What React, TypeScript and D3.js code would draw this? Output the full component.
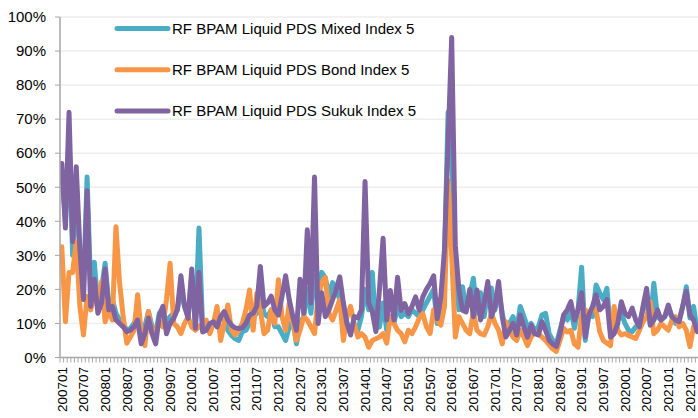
import React from "react";
import * as d3 from "d3";

const mixed = [
  55, 40, 65, 30, 50, 30, 20, 53, 20, 28, 15, 20,
  27.7, 16, 17, 13, 11, 10, 8, 8.5, 10, 12, 6, 9,
  13.5, 9, 7, 13, 14.5, 10, 12, 13, 14, 20, 15, 13,
  24, 10, 38, 9, 8, 10, 10, 11, 12, 11, 8, 6.5,
  5.5, 5, 7.6, 8, 10, 12, 13, 18, 13, 12, 14, 9,
  9, 7, 5, 9, 11, 4, 10, 12, 20, 13, 24, 16,
  25, 23.4, 18, 22, 20, 17, 14, 10, 8, 9, 8, 12,
  20, 14, 25, 8.6, 9, 16, 8, 12, 10, 15, 12, 13,
  12, 14, 13, 12, 14, 16, 18, 20, 10, 12, 28, 72,
  60, 25, 14, 20.8, 14, 18, 23.3, 13, 19, 12, 20, 20.4,
  14, 20, 13, 8, 10, 12, 8, 15, 12, 9, 10, 8,
  9, 12.5, 13, 7, 5, 4, 8, 12, 11, 14, 8.6, 14,
  26.5, 5, 13, 12, 21.3, 19, 17, 20.3, 7.6, 8, 11, 13,
  10, 8, 7.6, 9, 10, 14, 17, 10, 21.8, 12, 11, 12,
  14, 12, 10, 11, 15, 20.8, 11.6, 15, 8,
];

const bond = [
  32.5, 10.5, 25, 25, 34, 15, 6.6, 17.9, 14, 18, 16, 22.3,
  10.5, 14, 11, 38.4, 22, 12, 4.2, 6, 8, 18.4, 7.4, 3.5,
  13.5, 7, 8, 10, 9, 17, 27.7, 10, 9, 7, 10, 12,
  9, 8, 9, 10, 11, 7, 10, 15, 5, 10, 15.4, 8,
  6.6, 8, 10, 14, 19.8, 8, 18.8, 14, 7, 8, 14, 10,
  22.8, 12, 8, 16, 10, 5, 8, 12, 11, 9, 7, 18,
  22, 23.5, 13, 11, 14, 17, 5, 12, 15, 10, 6, 7,
  6, 3, 5, 5.5, 6, 7, 4.2, 12, 10, 8, 7, 4.6,
  8, 7, 9, 11.5, 12.9, 9, 7, 14, 11, 9.5, 15, 52,
  30, 6, 12, 10, 8, 7, 13.5, 8, 7, 6.6, 9, 13,
  10, 8, 4, 10.5, 8, 6, 5, 8, 6, 3.5, 6, 7.6,
  7, 6, 5, 3.7, 2.5, 1.8, 5, 8.6, 7.5, 8, 4, 3,
  12.5, 14, 13, 14, 14, 7.6, 5, 4.2, 3.5, 15, 8, 6.6,
  7, 6.5, 6, 5.6, 8, 10.5, 12, 16.4, 7, 8, 10, 9,
  8, 11, 12, 9, 10, 8, 3.2, 9, 8,
];

const sukuk = [
  57, 38, 72, 34, 56, 32, 17, 49, 15, 23, 13, 16,
  26, 14, 15, 11, 10, 9, 7.6, 8, 9, 11, 4, 7,
  11.6, 7, 4, 12, 15, 7, 10, 11.5, 14, 24, 15, 11.5,
  26, 8.6, 25, 7.5, 8, 10, 10.5, 9, 12, 13.5, 11, 9.5,
  8.7, 8.5, 8.7, 10, 12.5, 13, 15, 26.7, 15, 16, 18, 14,
  12.5, 18, 24, 17, 12, 8, 23, 13, 37.5, 16, 53, 10,
  19, 12, 14, 17, 20, 23.7, 16, 10, 6.6, 12, 11.6, 14,
  51.7, 16, 13.5, 7.6, 20, 35, 11, 19.7, 11, 23.6, 13.9, 15.8,
  12.9, 15, 17.8, 13.9, 17.8, 20, 21.7, 24, 11.4, 17.8, 31.6, 63,
  94, 33, 20, 13.9, 13.4, 20, 12, 19.8, 11, 16, 22.3, 12,
  15, 22.3, 12, 6, 8, 10, 6.6, 12.5, 9, 6, 9.5, 7,
  6.6, 10.5, 8, 5, 4, 3.2, 7, 12.5, 14, 16.4, 11, 14,
  19, 6, 12.5, 15, 18.4, 14, 15, 17, 6, 7, 10, 16.4,
  13, 12, 14.5, 11, 9, 15, 20.3, 9.5, 11, 14, 11, 12,
  15.4, 12, 11, 10.5, 15, 19.5, 12.5, 11, 7.6,
];

const seriesNames = [
  "RF BPAM Liquid PDS Mixed Index 5",
  "RF BPAM Liquid PDS Bond Index 5",
  "RF BPAM Liquid PDS Sukuk Index 5",
];
const seriesColors = ["#4BACC6", "#F79646", "#8064A2"];

const xTickLabels = [
  "200701", "200707", "200801", "200807", "200901", "200907", "201001", "201007",
  "201101", "201107", "201201", "201207", "201301", "201307", "201401", "201407",
  "201501", "201507", "201601", "201607", "201701", "201707", "201801", "201807",
  "201901", "201907", "202001", "202007", "202101", "202107",
];
const yTicks = [0, 0.1, 0.2, 0.3, 0.4, 0.5, 0.6, 0.7, 0.8, 0.9, 1.0];

const categories: string[] = [];
for (let i = 0; i < sukuk.length; i++) {
  const y = 2007 + Math.floor(i / 12);
  const m = (i % 12) + 1;
  categories.push(`${y}${m < 10 ? "0" + m : m}`);
}

const W = 698;
const H = 418;
const left = 60;
const bandW = 3.61;
const right = left + categories.length * bandW;
const top = 17;
const bottom = 357.5;
const font = "'Liberation Sans', Arial, sans-serif";

export default function App() {
  const x = d3.scaleBand<string>().domain(categories).range([left, right]).padding(0);
  const y = d3.scaleLinear().domain([0, 1]).range([bottom, top]);
  const cx = (c: string) => (x(c) as number) + x.bandwidth() / 2;

  const line = d3
    .line<number>()
    .x((_, i) => cx(categories[i]))
    .y((v) => y(v / 100));

  const allSeries = [mixed, bond, sukuk];

  return (
    <svg
      width={W}
      height={H}
      style={{ position: "absolute", left: 0, top: 0, background: "#fff" }}
      fontFamily={font}
    >
      <defs>
        <clipPath id="plot">
          <rect x={left} y={0} width={W - left} height={bottom + 5} />
        </clipPath>
      </defs>
      {yTicks.slice(1).map((t) => (
        <line key={t} x1={left} x2={W} y1={y(t)} y2={y(t)} stroke="#EEEEEE" strokeWidth={1.5} />
      ))}
      {yTicks.map((t) => (
        <g key={"yl" + t}>
          <line x1={left - 5} x2={left} y1={y(t)} y2={y(t)} stroke="#A6A6A6" strokeWidth={1} />
          <text x={46} y={y(t)} dy="0.35em" textAnchor="end" fontSize={15} fill="#000">
            {`${Math.round(t * 100)}%`}
          </text>
        </g>
      ))}
      <g clipPath="url(#plot)">
        {allSeries.map((s, k) => (
          <path
            key={k}
            d={line(s) || ""}
            fill="none"
            stroke={seriesColors[k]}
            strokeWidth={5}
            strokeLinejoin="round"
            strokeLinecap="round"
          />
        ))}
      </g>
      <line x1={left} x2={left} y1={top} y2={bottom} stroke="#A6A6A6" strokeWidth={1.5} />
      {categories.map((c) => (
        <line key={"t" + c} x1={x(c)} x2={x(c)} y1={bottom} y2={bottom + 5} stroke="#A6A6A6" strokeWidth={1} />
      ))}
      <line x1={left} x2={W} y1={bottom} y2={bottom} stroke="#A6A6A6" strokeWidth={1.5} />
      {xTickLabels.map((lab) => (
        <text
          key={lab}
          transform={`translate(${cx(lab)},367) rotate(-90)`}
          dy="0.35em"
          textAnchor="end"
          fontSize={13.5}
          fill="#000"
        >
          {lab}
        </text>
      ))}
      {seriesNames.map((n, k) => {
        const ly = 28.5 + k * 41.2;
        return (
          <g key={n}>
            <line x1={117} x2={168} y1={ly} y2={ly} stroke={seriesColors[k]} strokeWidth={5} strokeLinecap="round" />
            <text x={172} y={ly} dy="0.35em" fontSize={15} fill="#000">
              {n}
            </text>
          </g>
        );
      })}
    </svg>
  );
}
